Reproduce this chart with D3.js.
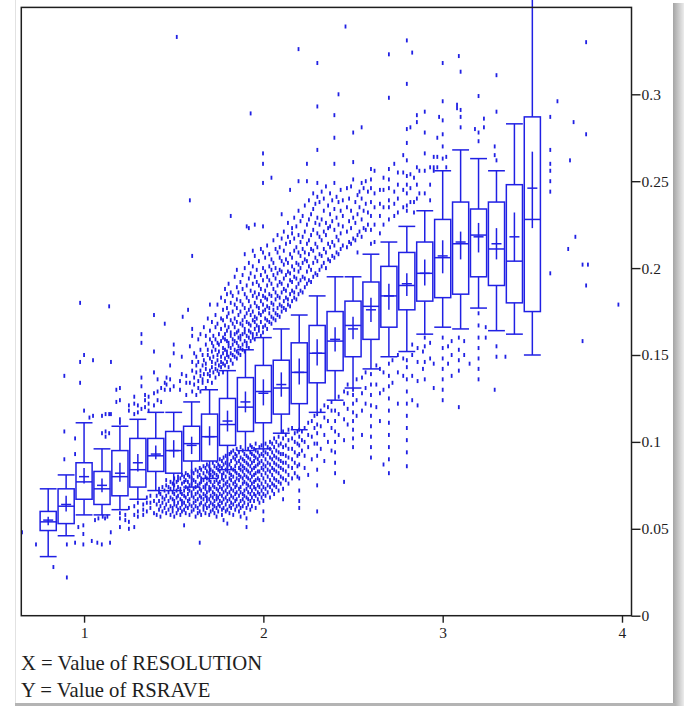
<!DOCTYPE html>
<html>
<head>
<meta charset="utf-8">
<script src="https://cdn.jsdelivr.net/npm/d3@7"></script>
<style>
  html, body { margin: 0; padding: 0; background: #fff; }
  svg { display: block; }
</style>
</head>
<body>
<div id="chart"></div>
<script>
// box plot per RESOLUTION bin
const bins = [0.8, 0.9, 1.0, 1.1, 1.2, 1.3, 1.4, 1.5, 1.6, 1.7, 1.8, 1.9, 2.0, 2.1,
  2.2, 2.3, 2.4, 2.5, 2.6, 2.7, 2.8, 2.9, 3.0, 3.1, 3.2, 3.3, 3.4, 3.5];
const lowWhisker = [.034, .046, .058, .058, .061, .067, .072, .072, .074, .079, .084, .095, .096, .105,
  .107, .117, .124, .131, .142, .149, .152, .162, .166, .165, .177, .164, .162, .150];
const q1 = [.049, .053, .067, .064, .069, .074, .083, .082, .089, .089, .098, .106, .111, .116,
  .122, .134, .141, .149, .159, .166, .176, .181, .183, .185, .195, .190, .180, .175];
const median = [.054, .063, .077, .073, .080, .084, .092, .095, .099, .103, .110, .120, .129, .131,
  .140, .151, .158, .167, .178, .184, .190, .197, .206, .214, .219, .211, .204, .228];
const q3 = [.060, .073, .088, .083, .095, .102, .102, .106, .109, .116, .125, .137, .144, .147,
  .157, .167, .175, .181, .192, .201, .209, .215, .228, .238, .234, .238, .248, .287];
const highWhisker = [.073, .081, .111, .096, .109, .113, .117, .117, .123, .130, .141, .153, .160, .165,
  .173, .184, .195, .195, .208, .215, .224, .233, .256, .268, .263, .256, .283, .36];
const mean = [.055, .064, .080, .075, .082, .088, .093, .095, .098, .103, .112, .123, .128, .133,
  .140, .151, .159, .165, .176, .184, .191, .197, .207, .215, .218, .214, .218, .246];
const meanLo = [.052, .060, .076, .071, .077, .083, .090, .091, .093, .098, .106, .117, .121, .126,
  .133, .144, .152, .159, .169, .176, .184, .190, .197, .205, .209, .205, .204, .223];
const meanHi = [.057, .069, .085, .079, .088, .093, .098, .101, .103, .109, .118, .129, .136, .140,
  .148, .159, .166, .172, .183, .191, .197, .205, .216, .221, .226, .223, .232, .267];

// raw observations, grouped by RESOLUTION value: [x, [RSRAVE ...]]
const lowerBand = [
  [0.654, [.048]], [0.732, [.041]], [0.829, [.028]], [0.904, [.022, .041]], [0.95, [.042]],
  [0.968, [.051]], [0.996, [.041, .047, .052]], [1.043, [.043]], [1.061, [.055]], [1.074, [.042]],
  [1.08, [.056]], [1.099, [.041]], [1.104, [.057]], [1.117, [.056]], [1.13, [.057]],
  [1.145, [.042]], [1.149, [.048]], [1.20, [.051, .056, .059]], [1.23, [.055, .058]],
  [1.25, [.050, .054, .062]], [1.28, [.051, .058, .063]], [1.30, [.060, .065, .057]],
  [1.33, [.061, .064, .058]], [1.35, [.065, .060, .068]], [1.37, [.065, .062, .069]],
  [1.39, [.059, .066]],
  [1.405, [.058, .064, .069]], [1.418, [.061, .066, .071, .073]], [1.426, [.057, .063, .070]],
  [1.437, [.060, .065, .068, .074]], [1.449, [.062, .067, .072]], [1.458, [.059, .064, .069, .075, .078]],
  [1.471, [.061, .066, .071, .074]], [1.482, [.058, .063, .068, .073, .077]],
  [1.494, [.060, .062, .067, .071, .076]], [1.503, [.057, .064, .066, .070, .075, .079]],
  [1.516, [.059, .063, .068, .072, .077]], [1.524, [.061, .065, .069, .074, .078, .080]],
  [1.537, [.058, .062, .067, .071, .073, .079]], [1.546, [.060, .064, .066, .070, .076, .081]],
  [1.558, [.052, .061, .065, .069, .072, .077, .080]], [1.567, [.059, .063, .068, .074, .078, .082]],
  [1.579, [.062, .066, .070, .073, .077, .081]], [1.588, [.058, .064, .067, .072, .075, .080]],
  [1.600, [.060, .063, .069, .071, .076, .079, .083]], [1.611, [.061, .065, .068, .073, .078, .082]],
  [1.622, [.057, .063, .066, .070, .074, .077, .084]], [1.634, [.059, .062, .067, .071, .075, .080, .083]],
  [1.645, [.042, .060, .064, .069, .073, .076, .081, .085]], [1.653, [.058, .065, .068, .072, .077, .079, .084]],
  [1.666, [.061, .063, .067, .070, .074, .078, .082, .086]], [1.677, [.059, .064, .069, .073, .075, .080, .085]],
  [1.685, [.062, .066, .068, .071, .076, .079, .083, .087]], [1.698, [.058, .063, .067, .072, .074, .078, .082, .086]],
  [1.706, [.060, .065, .069, .073, .077, .081, .084]], [1.718, [.061, .064, .068, .071, .075, .080, .083, .088]],
  [1.727, [.059, .063, .066, .070, .074, .077, .082, .086]], [1.739, [.057, .062, .067, .069, .073, .078, .081, .085, .089]],
  [1.748, [.060, .064, .068, .072, .076, .080, .084, .087]], [1.757, [.063, .066, .070, .074, .077, .083, .086, .090]],
  [1.769, [.058, .061, .065, .069, .073, .079, .081, .085, .089]], [1.778, [.055, .062, .067, .071, .075, .078, .082, .087, .091]],
  [1.790, [.060, .064, .068, .072, .076, .080, .084, .088, .092]], [1.799, [.053, .061, .066, .070, .074, .077, .083, .086, .090]],
  [1.811, [.059, .063, .067, .071, .075, .079, .082, .087, .093]], [1.820, [.062, .065, .069, .073, .078, .081, .085, .089, .094]],
  [1.832, [.058, .064, .068, .072, .076, .080, .084, .091, .095]], [1.843, [.061, .066, .070, .074, .077, .083, .086, .090, .093]],
  [1.851, [.063, .067, .071, .075, .079, .082, .088, .092, .096]], [1.864, [.060, .064, .069, .073, .078, .081, .085, .089, .094]],
  [1.873, [.057, .062, .066, .071, .074, .080, .084, .087, .091, .097]], [1.885, [.063, .067, .070, .076, .079, .083, .086, .090, .095]],
  [1.894, [.059, .065, .069, .072, .077, .081, .085, .089, .093]], [1.906, [.051, .056, .062, .068, .073, .076, .080, .084, .088, .092]],
  [1.915, [.064, .067, .071, .075, .079, .083, .087, .091, .096]], [1.927, [.061, .066, .070, .074, .078, .082, .086, .090, .094, .098]],
  [1.936, [.063, .068, .072, .076, .080, .084, .088, .093, .097]], [1.948, [.066, .070, .074, .077, .081, .085, .089, .092, .096]],
  [1.957, [.062, .069, .073, .078, .082, .086, .091, .095, .099]], [1.969, [.067, .071, .075, .079, .083, .087, .090, .094]],
  [1.978, [.065, .070, .074, .078, .083, .088, .092, .097]], [1.990, [.068, .072, .076, .081, .085, .089, .093, .098]],
  [2.000, [.055, .060, .066, .070, .074, .079, .084, .087, .092, .095]], [2.012, [.069, .073, .077, .082, .086, .090, .094, .099]],
  [2.024, [.071, .075, .080, .084, .088, .093, .097]], [2.037, [.068, .074, .078, .083, .087, .091, .096, .100]],
  [2.049, [.072, .076, .081, .085, .090, .094, .099]], [2.060, [.070, .075, .079, .084, .088, .092, .097, .102]],
  [2.072, [.074, .078, .083, .087, .091, .095, .100]], [2.085, [.072, .077, .082, .086, .090, .094, .098, .103]],
  [2.097, [.076, .080, .085, .089, .093, .099]], [2.110, [.067, .073, .079, .084, .088, .093, .097, .102, .106]],
  [2.125, [.078, .083, .088, .092, .098, .104]], [2.140, [.076, .081, .086, .091, .096, .101, .107]],
  [2.160, [.079, .085, .090, .096, .102, .108]], [2.175, [.082, .088, .094, .100, .105]],
  [2.190, [.080, .086, .092, .099, .106]],
  [2.20, [.062, .066, .072, .079, .087, .093, .098, .103, .107]], [2.215, [.095, .101, .106]],
  [2.23, [.085, .092, .100, .108]], [2.25, [.081, .097, .104, .111]], [2.27, [.090, .103, .112]],
  [2.285, [.099, .108, .115]], [2.30, [.060, .075, .084, .092, .099, .105, .110, .116]],
  [2.32, [.096, .109, .118]], [2.34, [.089, .104, .114, .121]], [2.36, [.100, .112, .120]],
  [2.38, [.095, .108, .118, .123]], [2.40, [.082, .088, .094, .100, .106, .112, .118]],
  [2.42, [.104, .116, .126]], [2.45, [.077, .101, .113, .122, .129]], [2.47, [.110, .119, .128, .133]],
  [2.50, [.097, .102, .107, .112, .117, .122, .127, .130]], [2.52, [.115, .124, .136]],
  [2.55, [.104, .118, .128, .137]], [2.57, [.122, .131, .140]],
  [2.60, [.091, .097, .103, .109, .115, .121, .127, .133, .139]], [2.63, [.120, .133, .144]],
  [2.65, [.112, .128, .142]], [2.67, [.087, .130, .140]],
  [2.70, [.082, .090, .097, .104, .111, .118, .125, .132, .138, .145]], [2.72, [.134, .147]],
  [2.75, [.122, .140, .150]], [2.78, [.138, .148]],
  [2.80, [.086, .094, .101, .108, .115, .122, .129, .136, .143, .147]], [2.83, [.124, .138, .150, .156]],
  [2.86, [.121, .135, .146, .154]], [2.89, [.142, .152]], [2.90, [.136, .146, .155, .160]],
  [2.93, [.148, .157]], [2.95, [.131, .145]], [3.00, [.124, .130, .136, .142, .148, .154, .160]],
  [3.03, [.145, .155]], [3.05, [.138, .150, .158]], [3.09, [.120, .141, .147, .153, .160]],
  [3.12, [.150, .158]], [3.15, [.145]], [3.20, [.136, .142, .148, .154, .160, .167, .174]],
  [3.24, [.160, .166]], [3.29, [.130]], [3.30, [.149, .155]], [3.35, [.149]]
];
const upperBand = [
  [0.89, [.090, .106, .138]], [0.95, [.093, .102]], [0.978, [.134, .146, .180]], [1.00, [.118, .150]],
  [1.03, [.114]], [1.05, [.115, .147]], [1.10, [.105, .115]], [1.12, [.103, .106, .116]],
  [1.14, [.105, .116, .178]], [1.15, [.116, .146]], [1.18, [.123, .130]], [1.20, [.111, .113, .124, .131]],
  [1.25, [.118, .121]], [1.28, [.116, .122, .126]], [1.30, [.117, .121]], [1.32, [.119, .132, .137, .157, .162]],
  [1.34, [.120, .124, .127]], [1.36, [.118, .122, .126]], [1.39, [.121, .128, .140, .152, .173]],
  [1.41, [.124, .129, .136]], [1.43, [.123, .131]], [1.45, [.130, .134, .168]], [1.46, [.133, .137]],
  [1.48, [.130, .136, .144]], [1.50, [.132, .151, .156]], [1.517, [.333]], [1.535, [.130, .135]],
  [1.545, [.139, .149]], [1.55, [.172]], [1.57, [.127, .134, .138]], [1.58, [.176]],
  [1.59, [.134, .155, .239]],
  [1.603, [.129, .141, .146, .161, .165, .207]], [1.614, [.133, .137, .151]], [1.626, [.127, .140, .144, .149]],
  [1.637, [.131, .135, .146, .159]], [1.649, [.129, .138, .141, .153, .162]], [1.661, [.134, .136, .144, .150]],
  [1.668, [.139, .147, .166]], [1.679, [.131, .142, .145, .156, .161]], [1.690, [.135, .139, .150, .153, .171]],
  [1.702, [.138, .141, .148, .159, .164, .179]], [1.713, [.134, .143, .146, .152, .157, .169]],
  [1.721, [.140, .149, .155, .161]], [1.733, [.137, .142, .145, .153, .159, .166, .173]],
  [1.744, [.141, .147, .150, .157, .168, .179]], [1.752, [.139, .144, .152, .156, .162]],
  [1.764, [.143, .146, .149, .158, .165, .171, .183]], [1.775, [.140, .145, .151, .154, .160, .170, .176]],
  [1.786, [.144, .148, .153, .159, .162, .167, .181, .188]], [1.797, [.146, .150, .152, .158, .164, .172, .177, .185]],
  [1.806, [.143, .149, .155, .157, .166, .174, .191]], [1.818, [.147, .151, .154, .161, .163, .170, .180, .186, .230]],
  [1.829, [.145, .150, .156, .159, .168, .175, .184]], [1.840, [.149, .153, .158, .162, .166, .171, .179, .195]],
  [1.852, [.148, .152, .157, .163, .169, .177, .182, .189, .199]], [1.861, [.151, .155, .160, .164, .173, .186]],
  [1.872, [.150, .154, .159, .161, .168, .175, .181, .192]], [1.884, [.153, .156, .162, .167, .170, .179, .188, .196]],
  [1.896, [.152, .158, .163, .165, .172, .177, .185, .200, .208]], [1.907, [.155, .157, .161, .169, .174, .183, .190, .224]],
  [1.919, [.154, .160, .164, .168, .176, .181, .194, .203, .223]], [1.929, [.158, .163, .167, .173, .178, .187, .197, .289]],
  [1.941, [.160, .162, .170, .175, .184, .191, .201, .210]], [1.952, [.159, .165, .169, .172, .180, .186, .195, .207, .225]],
  [1.963, [.162, .167, .171, .178, .183, .192, .199]], [1.975, [.164, .166, .174, .177, .185, .190, .204]],
  [1.986, [.161, .169, .173, .181, .188, .196, .211]],
  [1.998, [.163, .166, .175, .179, .184, .193, .200, .209, .224, .249, .260, .266]],
  [2.010, [.167, .171, .176, .183, .187, .198, .206]], [2.021, [.165, .170, .178, .182, .190, .195, .213]],
  [2.033, [.169, .174, .177, .185, .193, .201, .208]], [2.045, [.168, .172, .180, .184, .191, .199, .205, .252]],
  [2.056, [.171, .176, .179, .188, .196, .203, .216]], [2.068, [.170, .174, .182, .186, .194, .200, .211]],
  [2.079, [.173, .177, .184, .190, .197, .209, .219]], [2.091, [.172, .179, .183, .192, .199, .206, .212]],
  [2.102, [.175, .178, .186, .191, .198, .204, .217, .231]], [2.114, [.177, .181, .188, .194, .202, .210, .221]],
  [2.126, [.176, .183, .187, .196, .205, .214]], [2.137, [.179, .182, .190, .198, .203, .218, .226]],
  [2.149, [.178, .185, .193, .197, .208, .215, .245]], [2.160, [.181, .187, .192, .201, .206, .220, .223]],
  [2.172, [.183, .186, .195, .199, .210, .217, .229]], [2.184, [.182, .189, .194, .203, .212, .224]],
  [2.196, [.185, .191, .198, .202, .209, .219, .233, .250, .326]], [2.207, [.187, .193, .200, .207, .215, .227]],
  [2.219, [.186, .195, .203, .211, .218, .230]], [2.231, [.189, .194, .205, .209, .221, .236]],
  [2.243, [.191, .198, .204, .214, .225, .250, .260]], [2.254, [.193, .201, .208, .216, .228, .239]],
  [2.266, [.192, .199, .211, .219, .231]], [2.278, [.195, .203, .210, .222, .234, .243]],
  [2.290, [.197, .206, .214, .226, .237]],
  [2.301, [.196, .204, .212, .220, .229, .241, .249, .268, .293, .318]],
  [2.313, [.199, .208, .218, .225, .238]], [2.325, [.201, .207, .216, .228, .244]],
  [2.337, [.203, .211, .221, .233, .240]], [2.349, [.200, .209, .219, .226, .247]],
  [2.361, [.205, .214, .223, .236]], [2.372, [.204, .212, .224, .231, .243]],
  [2.384, [.207, .215, .227, .239]], [2.396, [.206, .213, .222, .234, .249, .260, .275, .288]],
  [2.408, [.209, .218, .229, .241]], [2.419, [.208, .216, .225, .238, .300]],
  [2.431, [.211, .220, .233, .245]], [2.443, [.213, .224, .230, .239]], [2.458, [.339]],
  [2.466, [.212, .221, .235, .246]], [2.478, [.215, .227, .240]], [2.489, [.214, .223, .233, .247]],
  [2.501, [.217, .229, .251, .261, .278]], [2.513, [.216, .226, .238]], [2.525, [.209, .219, .231, .242]],
  [2.536, [.221, .235, .244]], [2.548, [.218, .228, .240, .249, .281]], [2.559, [.223, .233, .246]],
  [2.571, [.222, .237, .250]], [2.583, [.225, .232, .244]],
  [2.60, [.214, .222, .230, .238, .246, .251, .257]],
  [2.62, [.215, .225, .235, .243, .256]],
  [2.65, [.220, .230, .237, .245]], [2.67, [.225, .235, .245, .252]],
  [2.70, [.228, .235, .239, .246, .251, .257, .298, .323]],
  [2.73, [.230, .237, .244, .260]], [2.75, [.232, .240, .248, .255]],
  [2.78, [.235, .245, .255, .265]],
  [2.80, [.233, .236, .243, .248, .253, .262, .272, .280, .306, .331]],
  [2.82, [.238, .246, .254, .281]], [2.83, [.324]], [2.84, [.232, .238, .252]],
  [2.856, [.240, .248, .258, .284, .288]], [2.87, [.243, .256]],
  [2.90, [.243, .256, .266, .278, .290]], [2.93, [.239, .248, .258]],
  [2.95, [.256, .258, .264]], [2.97, [.258, .264, .275]],
  [2.98, [.287]], [3.00, [.263, .270, .277, .285, .296, .318]],
  [3.02, [.258, .264]], [3.08, [.292, .294]], [3.09, [.322]],
  [3.10, [.281, .287, .291, .313]], [3.18, [.280]], [3.20, [.273, .278, .299]],
  [3.23, [.281, .286]], [3.29, [.265, .270]], [3.30, [.262, .290, .311]]
];
const outliers = [
  [3.60, [.197, .244, .250, .256, .260, .268, .287]], [3.64, [.296]], [3.70, [.211]],
  [3.71, [.262]], [3.73, [.284]], [3.74, [.218]], [3.78, [.158, .202]],
  [3.80, [.190, .277, .330]], [3.81, [.202]], [3.98, [.179]]
];

const xTicks = [1, 2, 3, 4];
const yTicks = [0, 0.05, 0.1, 0.15, 0.2, 0.25, 0.3];
const yTickLabels = ['0', '0.05', '0.1', '0.15', '0.2', '0.25', '0.3'];
const footer = ['X = Value of RESOLUTION', 'Y = Value of RSRAVE'];

const width = 684;
const height = 706;
const blue = '#2020e4';
const ink = '#1e1e1e';
const serif = "'Liberation Serif', 'Times New Roman', serif";

const svg = d3.select('#chart').append('svg')
  .attr('width', width)
  .attr('height', height);

// page edge shadow
const grad = svg.append('defs').append('linearGradient')
  .attr('id', 'edge')
  .attr('x1', 0).attr('x2', 1);
grad.append('stop').attr('offset', 0).attr('stop-color', '#a4a4a4');
grad.append('stop').attr('offset', 1).attr('stop-color', '#ececec');
svg.append('rect')
  .attr('x', 673).attr('y', 3)
  .attr('width', 11).attr('height', height)
  .attr('fill', 'url(#edge)');
svg.append('rect')
  .attr('x', 15).attr('y', 703)
  .attr('width', 660).attr('height', 3)
  .attr('fill', '#b4b4b4');
svg.append('line')
  .attr('x1', 15.5).attr('x2', 15.5)
  .attr('y1', 0).attr('y2', 703)
  .attr('stroke', '#e2e2e2');

const x = d3.scaleLinear().domain([0.65, 4.053]).range([21.3, 631.5]);
const y = d3.scaleLinear().domain([0, 0.35]).range([615.7, 7.4]);

// observations as short vertical dashes
const points = [...lowerBand, ...upperBand, ...outliers]
  .flatMap(([xv, ys]) => ys.map((yv) => ({ x: xv, y: yv })));

svg.append('g')
  .selectAll('rect')
  .data(points)
  .join('rect')
  .attr('x', (d) => x(d.x) - 0.9)
  .attr('y', (d) => y(d.y) - 2)
  .attr('width', 1.8)
  .attr('height', 4)
  .attr('fill', blue);

const boxes = bins.map((b, i) => ({
  bin: b,
  low: lowWhisker[i],
  q1: q1[i],
  med: median[i],
  q3: q3[i],
  high: highWhisker[i],
  mean: mean[i],
  lo: meanLo[i],
  hi: meanHi[i]
}));

const boxHalf = x(0.045) - x(0);
const capHalf = x(0.047) - x(0);
const crossHalf = x(0.028) - x(0);

const g = svg.append('g')
  .attr('stroke', blue)
  .attr('stroke-width', 1.5)
  .selectAll('g')
  .data(boxes)
  .join('g');

g.append('line')
  .attr('x1', (d) => x(d.bin)).attr('x2', (d) => x(d.bin))
  .attr('y1', (d) => y(d.low)).attr('y2', (d) => y(d.high));
g.append('line')
  .attr('x1', (d) => x(d.bin) - capHalf).attr('x2', (d) => x(d.bin) + capHalf)
  .attr('y1', (d) => y(d.low)).attr('y2', (d) => y(d.low));
g.append('line')
  .attr('x1', (d) => x(d.bin) - capHalf).attr('x2', (d) => x(d.bin) + capHalf)
  .attr('y1', (d) => y(d.high)).attr('y2', (d) => y(d.high));
g.append('rect')
  .attr('x', (d) => x(d.bin) - boxHalf)
  .attr('y', (d) => y(d.q3))
  .attr('width', boxHalf * 2)
  .attr('height', (d) => y(d.q1) - y(d.q3))
  .attr('fill', '#fff');
g.append('line')
  .attr('x1', (d) => x(d.bin) - boxHalf).attr('x2', (d) => x(d.bin) + boxHalf)
  .attr('y1', (d) => y(d.med)).attr('y2', (d) => y(d.med));
g.append('line')
  .attr('x1', (d) => x(d.bin)).attr('x2', (d) => x(d.bin))
  .attr('y1', (d) => y(d.lo)).attr('y2', (d) => y(d.hi));
g.append('line')
  .attr('x1', (d) => x(d.bin) - crossHalf).attr('x2', (d) => x(d.bin) + crossHalf)
  .attr('y1', (d) => y(d.mean)).attr('y2', (d) => y(d.mean));

// frame
svg.append('rect')
  .attr('x', x.range()[0])
  .attr('y', y.range()[1])
  .attr('width', x.range()[1] - x.range()[0])
  .attr('height', y.range()[0] - y.range()[1])
  .attr('fill', 'none')
  .attr('stroke', ink)
  .attr('stroke-width', 1.5);

const yAxis = svg.append('g')
  .attr('transform', `translate(${x.range()[1]},0)`)
  .call(d3.axisRight(y)
    .tickValues(yTicks)
    .tickSize(9)
    .tickPadding(1)
    .tickFormat((d, i) => yTickLabels[i]));

const xAxis = svg.append('g')
  .attr('transform', `translate(0,${y.range()[0]})`)
  .call(d3.axisBottom(x)
    .tickValues(xTicks)
    .tickSize(7)
    .tickPadding(4)
    .tickFormat(d3.format('d')));

[yAxis, xAxis].forEach((a) => {
  a.select('.domain').remove();
  a.selectAll('line').attr('stroke', ink).attr('stroke-width', 1.4);
  a.selectAll('text')
    .attr('fill', ink)
    .attr('font-family', serif)
    .attr('font-size', 15.5);
});

svg.append('g')
  .selectAll('text')
  .data(footer)
  .join('text')
  .attr('x', 21)
  .attr('y', (d, i) => 670 + i * 27)
  .attr('font-family', serif)
  .attr('font-size', 20.7)
  .attr('fill', ink)
  .text((d) => d);
</script>
</body>
</html>
